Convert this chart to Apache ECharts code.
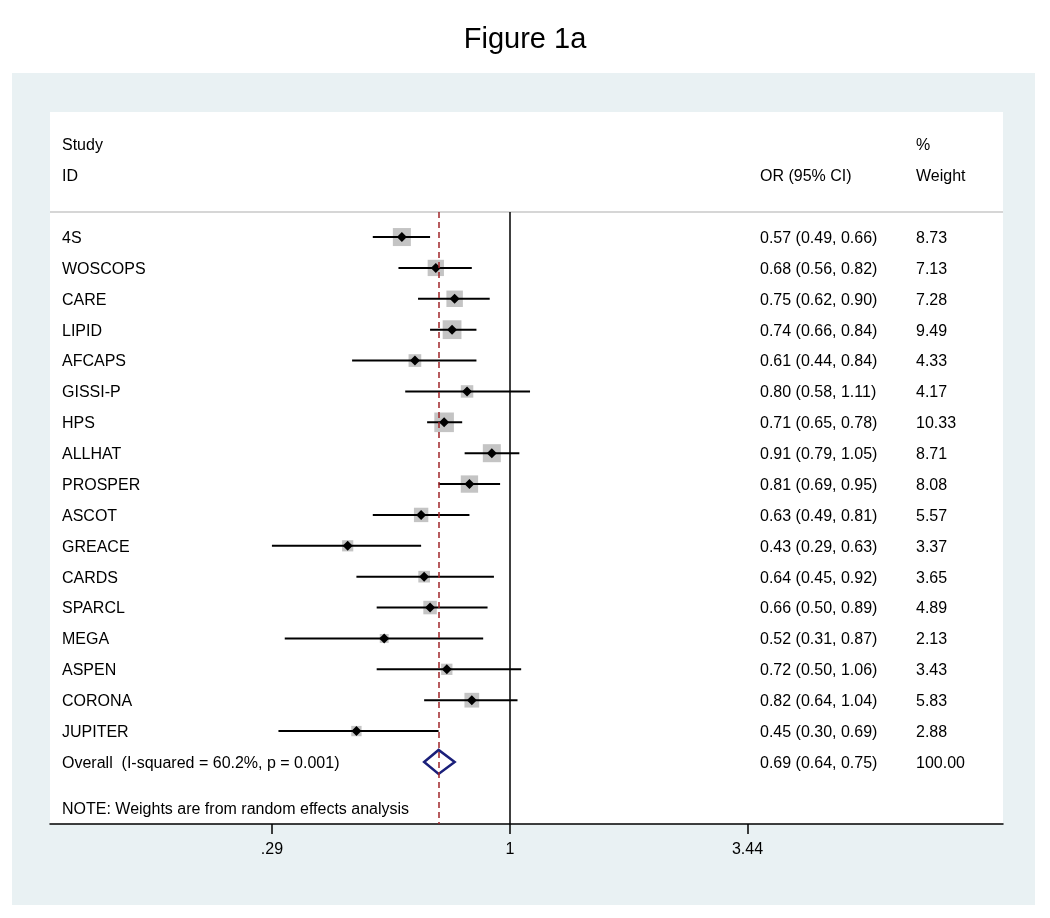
<!DOCTYPE html>
<html>
<head>
<meta charset="utf-8">
<script src="https://cdn.jsdelivr.net/npm/echarts@6/dist/echarts.min.js"></script>
<style>
  html, body { margin: 0; padding: 0; background: #fff; }
  #panel { position: absolute; left: 12px; top: 73px; width: 1023px; height: 832px; background: #e9f1f3; }
  #chart { position: absolute; left: 0; top: 0; width: 1050px; height: 918px; }
</style>
</head>
<body>
<div id="panel"></div>
<div id="chart"></div>
<script>
// study data (odds ratio, 95% CI, % weight)
var studies = ["4S", "WOSCOPS", "CARE", "LIPID", "AFCAPS", "GISSI-P", "HPS", "ALLHAT", "PROSPER",
  "ASCOT", "GREACE", "CARDS", "SPARCL", "MEGA", "ASPEN", "CORONA", "JUPITER"];
var orVals = [0.57, 0.68, 0.75, 0.74, 0.61, 0.80, 0.71, 0.91, 0.81, 0.63, 0.43, 0.64, 0.66, 0.52, 0.72, 0.82, 0.45];
var ciLow = [0.49, 0.56, 0.62, 0.66, 0.44, 0.58, 0.65, 0.79, 0.69, 0.49, 0.29, 0.45, 0.50, 0.31, 0.50, 0.64, 0.30];
var ciHigh = [0.66, 0.82, 0.90, 0.84, 0.84, 1.11, 0.78, 1.05, 0.95, 0.81, 0.63, 0.92, 0.89, 0.87, 1.06, 1.04, 0.69];
var weights = [8.73, 7.13, 7.28, 9.49, 4.33, 4.17, 10.33, 8.71, 8.08, 5.57, 3.37, 3.65, 4.89, 2.13, 3.43, 5.83, 2.88];
var overall = { label: "Overall  (I-squared = 60.2%, p = 0.001)", or: 0.69, lo: 0.64, hi: 0.75, weight: "100.00" };
var tickValues = [0.29, 1, 3.44];
var tickLabels = [".29", "1", "3.44"];

var chart = echarts.init(document.getElementById("chart"));
var FONT = "'Liberation Sans', Arial, sans-serif";
var COL_STUDY = 62, COL_OR = 760, COL_W = 916;
var ln = Math.log;

var rows = studies.map(function (s, i) {
  return [i, ln(orVals[i]), ln(ciLow[i]), ln(ciHigh[i]), weights[i]];
});

function txt(x, y, s) {
  return {
    type: "text",
    style: { x: x, y: y + 1.5, text: s, fill: "#000", font: "16px " + FONT, textVerticalAlign: "middle" }
  };
}

function fmt(v) { return v.toFixed(2); }

chart.setOption({
  animation: false,
  title: {
    text: "Figure 1a",
    left: "center",
    top: 20,
    textStyle: { fontFamily: FONT, fontSize: 29, fontWeight: "normal", color: "#000" }
  },
  grid: {
    left: 50, right: 47, top: 112, bottom: 94,
    show: true, backgroundColor: "#fff", borderWidth: 0
  },
  xAxis: {
    type: "value",
    min: -2.392,
    max: 2.564,
    axisLine: { show: true, onZero: false, lineStyle: { color: "#000", width: 1.5 } },
    axisTick: {
      show: true, length: 10, lineStyle: { color: "#000", width: 1.5 },
      customValues: tickValues.map(ln)
    },
    axisLabel: {
      show: true, margin: 18, color: "#000", fontFamily: FONT, fontSize: 16,
      customValues: tickValues.map(ln),
      formatter: function (v) {
        var best = 0;
        tickValues.forEach(function (t, k) {
          if (Math.abs(ln(t) - v) < Math.abs(ln(tickValues[best]) - v)) best = k;
        });
        return tickLabels[best];
      }
    },
    splitLine: { show: false }
  },
  yAxis: {
    type: "value",
    inverse: true,
    min: -4.05,
    max: 19.01,
    show: false
  },
  series: [
    {
      // reference lines
      type: "line",
      data: [],
      markLine: {
        silent: true,
        symbol: "none",
        label: { show: false },
        data: [
          [{ coord: [-2.392, -0.81], lineStyle: { color: "#c8c8c8", width: 1.5, type: "solid" } }, { coord: [2.564, -0.81] }],
          [{ coord: [0, -0.81], lineStyle: { color: "#000", width: 1.5, type: "solid" } }, { coord: [0, 19.01] }],
          [{ coord: [ln(overall.or), -0.81], lineStyle: { color: "#a0262a", width: 1.5, type: [6, 4] } }, { coord: [ln(overall.or), 19.01] }]
        ]
      }
    },
    {
      // studies
      type: "custom",
      data: rows,
      renderItem: function (params, api) {
        var i = api.value(0);
        var c = api.coord([api.value(1), i]);
        var l = api.coord([api.value(2), i]);
        var h = api.coord([api.value(3), i]);
        var side = 6.1 * Math.sqrt(api.value(4));
        var d = 5;
        return {
          type: "group",
          children: [
            { type: "rect", shape: { x: c[0] - side / 2, y: c[1] - side / 2, width: side, height: side }, style: { fill: "#c4c4c4" } },
            { type: "line", shape: { x1: l[0], y1: l[1], x2: h[0], y2: h[1] }, style: { stroke: "#000", lineWidth: 2 } },
            { type: "polygon", shape: { points: [[c[0] - d, c[1]], [c[0], c[1] - d], [c[0] + d, c[1]], [c[0], c[1] + d]] }, style: { fill: "#000" } },
            txt(COL_STUDY, c[1], studies[i]),
            txt(COL_OR, c[1], fmt(orVals[i]) + " (" + fmt(ciLow[i]) + ", " + fmt(ciHigh[i]) + ")"),
            txt(COL_W, c[1], fmt(weights[i]))
          ]
        };
      }
    },
    {
      // overall diamond, headers and note
      type: "custom",
      data: [[17, ln(overall.or), ln(overall.lo), ln(overall.hi)]],
      renderItem: function (params, api) {
        var row = api.value(0);
        var c = api.coord([api.value(1), row]);
        var l = api.coord([api.value(2), row]);
        var h = api.coord([api.value(3), row]);
        var hh = 12;
        var yStudy = api.coord([0, -3])[1];
        var yId = api.coord([0, -2])[1];
        var yNote = api.coord([0, 18.5])[1];
        return {
          type: "group",
          children: [
            { type: "polygon", shape: { points: [[l[0], l[1]], [c[0], c[1] - hh], [h[0], h[1]], [c[0], c[1] + hh]] },
              style: { fill: "none", stroke: "#1a1f7a", lineWidth: 2.5 } },
            txt(COL_STUDY, c[1], overall.label),
            txt(COL_OR, c[1], fmt(overall.or) + " (" + fmt(overall.lo) + ", " + fmt(overall.hi) + ")"),
            txt(COL_W, c[1], overall.weight),
            txt(COL_STUDY, yStudy, "Study"),
            txt(COL_STUDY, yId, "ID"),
            txt(COL_OR, yId, "OR (95% CI)"),
            txt(COL_W, yStudy, "%"),
            txt(COL_W, yId, "Weight"),
            txt(COL_STUDY, yNote, "NOTE: Weights are from random effects analysis")
          ]
        };
      }
    }
  ]
});
</script>
</body>
</html>
